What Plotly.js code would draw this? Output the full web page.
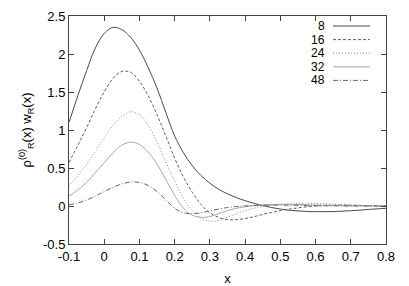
<!DOCTYPE html>
<html><head><meta charset="utf-8">
<script src="https://cdn.plot.ly/plotly-3.0.1.min.js"></script>
<style>html,body{margin:0;padding:0;background:#fff}#c{width:409px;height:286px}</style>
</head><body><div id="c"></div>
<script>
const xs = [-0.1,-0.075,-0.05,-0.025,0,0.025,0.05,0.075,0.1,0.125,0.15,0.175,0.2,0.225,0.25,0.275,0.3,0.325,0.35,0.375,0.4,0.425,0.45,0.475,0.5,0.525,0.55,0.575,0.6,0.625,0.65,0.675,0.7,0.725,0.75,0.775,0.8];
const r8  = [1.1,1.45,1.78,2.08,2.27,2.35,2.32,2.22,2.05,1.82,1.55,1.23,0.92,0.7,0.53,0.4,0.3,0.22,0.16,0.11,0.07,0.035,0.005,-0.02,-0.04,-0.055,-0.065,-0.072,-0.075,-0.075,-0.073,-0.068,-0.062,-0.055,-0.045,-0.038,-0.03];
const r16 = [0.57,0.8,1.03,1.28,1.5,1.68,1.77,1.76,1.64,1.45,1.2,0.92,0.63,0.38,0.18,0.02,-0.09,-0.15,-0.18,-0.18,-0.165,-0.14,-0.11,-0.085,-0.06,-0.04,-0.025,-0.01,0.0,0.007,0.01,0.012,0.01,0.008,0.005,0.002,0.0];
const r24 = [0.26,0.4,0.55,0.72,0.9,1.06,1.18,1.24,1.2,1.06,0.84,0.58,0.33,0.1,-0.06,-0.16,-0.2,-0.19,-0.15,-0.1,-0.06,-0.03,-0.005,0.01,0.02,0.027,0.032,0.035,0.035,0.032,0.027,0.02,0.014,0.009,0.005,0.002,0.0];
const r32 = [0.13,0.21,0.31,0.44,0.57,0.7,0.8,0.84,0.81,0.71,0.55,0.35,0.14,-0.03,-0.12,-0.15,-0.14,-0.1,-0.06,-0.03,-0.01,0.005,0.014,0.02,0.022,0.022,0.02,0.017,0.014,0.01,0.007,0.005,0.003,0.002,0.001,0.0,0.0];
const r48 = [0.015,0.04,0.08,0.13,0.19,0.245,0.29,0.315,0.31,0.27,0.19,0.08,-0.03,-0.09,-0.1,-0.09,-0.065,-0.04,-0.02,-0.007,0.002,0.007,0.01,0.011,0.011,0.01,0.008,0.006,0.004,0.003,0.002,0.001,0.0,0.0,0.0,0.0,0.0];
const names = ['8','16','24','32','48'];
const series = [r8,r16,r24,r32,r48];
const colors = ['#4a4a4a','#606060','#8a8a8a','#a8a8a8','#666666'];
const dashes = ['solid','3px,2px','1px,2px','solid','5px,2px,1px,2px'];
const xTicks = [-0.1,0,0.1,0.2,0.3,0.4,0.5,0.6,0.7,0.8];
const xTickText = ['-0.1','0','0.1','0.2','0.3','0.4','0.5','0.6','0.7','0.8'];
const yTicks = [-0.5,0,0.5,1,1.5,2,2.5];
const yTickText = ['-0.5','0','0.5','1','1.5','2','2.5'];

const traces = series.map((s,i)=>({
  x: xs, y: s, type:'scatter', mode:'lines', name:names[i], showlegend:false,
  line:{color:colors[i], width:1, dash:dashes[i], shape:'spline', smoothing:1}
}));

const shapes = [], annotations = [];
names.forEach((n,i)=>{
  const yp = 26 + i*13.6;
  const yy = 1 - (yp-16)/228;
  annotations.push({xref:'paper', yref:'paper', x:(326-69)/317, y:yy, text:n, showarrow:false,
    xanchor:'right', yanchor:'middle', borderpad:0, font:{family:'Liberation Sans, Arial', size:12, color:'#000'}});
  shapes.push({type:'line', xref:'paper', yref:'paper', x0:(333-69)/317, x1:(370-69)/317, y0:yy, y1:yy,
    line:{color:colors[i], width:1, dash:dashes[i]}});
});

const ax = {showgrid:false, zeroline:false, showline:true, mirror:'ticks', linecolor:'#444', linewidth:1,
  ticks:'inside', ticklen:5, tickcolor:'#444', tickmode:'array'};
const layout = {
  width:409, height:286, margin:{l:69, r:23, t:16, b:42},
  paper_bgcolor:'#fff', plot_bgcolor:'#fff',
  font:{family:'Liberation Sans, Arial', size:13, color:'#000'},
  xaxis:Object.assign({}, ax, {range:[-0.1,0.8], tickvals:xTicks, ticktext:xTickText,
    title:{text:'x', standoff:14, font:{size:13}}}),
  yaxis:Object.assign({}, ax, {range:[-0.5,2.5], tickvals:yTicks, ticktext:yTickText,
    title:{text:'ρ<sup>(0)</sup><sub>R</sub>(x) w<sub>R</sub>(x)', standoff:8, font:{size:13}}}),
  shapes:shapes, annotations:annotations
};
Plotly.newPlot('c', traces, layout, {displayModeBar:false, staticPlot:true});
</script></body></html>
